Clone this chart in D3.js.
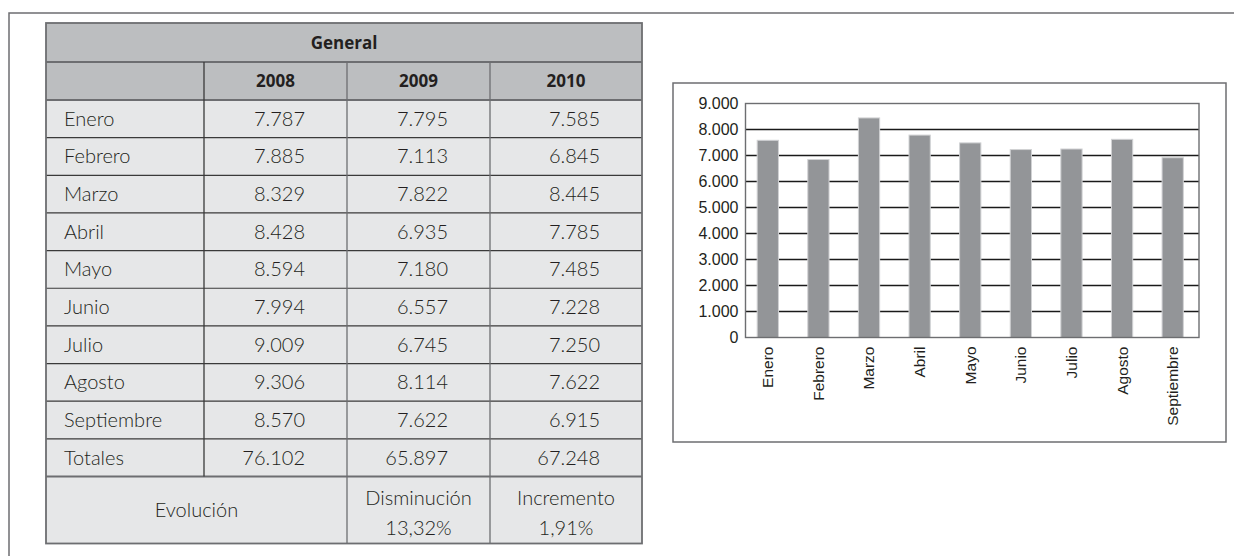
<!DOCTYPE html>
<html>
<head>
<meta charset="utf-8">
<script src="https://cdn.jsdelivr.net/npm/d3@7"></script>
<style>
  body { margin: 0; background: #fff; }
  svg { display: block; }
</style>
</head>
<body>
<div id="page"></div>
<script>
// table data
var months = ["Enero", "Febrero", "Marzo", "Abril", "Mayo", "Junio", "Julio", "Agosto", "Septiembre"];
var years = ["2008", "2009", "2010"];
var values2008 = ["7.787", "7.885", "8.329", "8.428", "8.594", "7.994", "9.009", "9.306", "8.570"];
var values2009 = ["7.795", "7.113", "7.822", "6.935", "7.180", "6.557", "6.745", "8.114", "7.622"];
var values2010 = ["7.585", "6.845", "8.445", "7.785", "7.485", "7.228", "7.250", "7.622", "6.915"];
var totals = ["76.102", "65.897", "67.248"];
var evolution = [["Disminución", "13,32%"], ["Incremento", "1,91%"]];
var yTicks = [0, 1000, 2000, 3000, 4000, 5000, 6000, 7000, 8000, 9000];

var svgWidth = 1234;
var svgHeight = 556;

var svg = d3.select("#page").append("svg")
  .attr("width", svgWidth)
  .attr("height", svgHeight);

var lineGray = "#6d6e71";
var lineDark = "#3a3a3a";
var lightFont = "Lato, 'Open Sans', sans-serif";
var boldFont = "'Open Sans', sans-serif";

// page frame (top + left edge)
svg.append("path")
  .attr("d", "M9,556 L9,13 L1234,13")
  .attr("fill", "none")
  .attr("stroke", lineGray)
  .attr("stroke-width", 1.5);

// ---------- table ----------
var colX = [46, 204, 347, 490, 642];
var tableTop = 23;
var generalH = 39;
var headerH = 38;
var rowH = 37.65;
var evolH = 67;

var rowsTop = tableTop + generalH + headerH;
var rowY = d3.scaleLinear().domain([0, 1]).range([rowsTop, rowsTop + rowH]);
var totalsTop = rowY(months.length);
var evolTop = totalsTop + rowH;
var tableBottom = evolTop + evolH;

var table = svg.append("g");

// backgrounds
table.append("rect")
  .attr("x", colX[0]).attr("y", tableTop)
  .attr("width", colX[4] - colX[0]).attr("height", generalH + headerH)
  .attr("fill", "#bcbec0");
table.append("rect")
  .attr("x", colX[0]).attr("y", rowsTop)
  .attr("width", colX[4] - colX[0]).attr("height", tableBottom - rowsTop)
  .attr("fill", "#e6e7e8");

// horizontal rules between data rows
var ruleYs = d3.range(0, months.length + 2).map(function(i) { return rowY(i); });
table.selectAll("line.hrule")
  .data(ruleYs)
  .enter()
  .append("line")
  .attr("x1", colX[0]).attr("x2", colX[4])
  .attr("y1", d => d).attr("y2", d => d)
  .attr("stroke", (d, i) => (i === 0 || i === months.length + 1) ? lineGray : lineDark)
  .attr("stroke-width", (d, i) => (i === 0 || i === months.length + 1) ? 1.8 : 1.2);

table.append("line")
  .attr("x1", colX[0]).attr("x2", colX[4])
  .attr("y1", tableTop + generalH).attr("y2", tableTop + generalH)
  .attr("stroke", lineGray).attr("stroke-width", 1.8);

// vertical rules
[1, 2, 3].forEach(function(c) {
  var y1 = tableTop + generalH;
  var y2 = (c === 1) ? evolTop : tableBottom;
  table.append("line")
    .attr("x1", colX[c]).attr("x2", colX[c])
    .attr("y1", y1).attr("y2", y2)
    .attr("stroke", c === 1 ? lineDark : lineGray)
    .attr("stroke-width", 1.3);
});

// outer border
table.append("rect")
  .attr("x", colX[0]).attr("y", tableTop)
  .attr("width", colX[4] - colX[0]).attr("height", tableBottom - tableTop)
  .attr("fill", "none")
  .attr("stroke", lineGray)
  .attr("stroke-width", 1.8);

// header texts
table.append("text")
  .attr("x", (colX[0] + colX[4]) / 2)
  .attr("y", tableTop + generalH / 2 + 6)
  .attr("text-anchor", "middle")
  .style("font-family", boldFont)
  .style("font-weight", "700")
  .style("font-size", "17px")
  .style("fill", "#231f20")
  .text("General");

table.selectAll("text.year")
  .data(years)
  .enter()
  .append("text")
  .attr("x", (d, i) => (colX[i + 1] + colX[i + 2]) / 2)
  .attr("y", tableTop + generalH + headerH / 2 + 6)
  .attr("text-anchor", "middle")
  .style("font-family", boldFont)
  .style("font-weight", "700")
  .style("font-size", "17px")
  .style("fill", "#231f20")
  .text(d => d);

// body rows
var bodyRows = months.map(function(m, i) {
  return [m, values2008[i], values2009[i], values2010[i]];
});
bodyRows.push(["Totales"].concat(totals));

bodyRows.forEach(function(row, r) {
  var cy = rowY(r) + rowH / 2 + 7;
  table.append("text")
    .attr("x", colX[0] + 18)
    .attr("y", cy)
    .style("font-family", lightFont)
    .style("font-weight", "300")
    .style("font-size", "20px")
    .style("fill", "#231f20")
    .text(row[0]);
  for (var c = 1; c < 4; c++) {
    table.append("text")
      .attr("x", colX[c + 1] - 42)
      .attr("y", cy)
      .attr("text-anchor", "end")
      .style("font-family", lightFont)
      .style("font-weight", "300")
      .style("font-size", "20px")
      .style("fill", "#231f20")
      .text(row[c]);
  }
});

// evolución row
table.append("text")
  .attr("x", (colX[0] + colX[2]) / 2)
  .attr("y", evolTop + evolH / 2 + 7)
  .attr("text-anchor", "middle")
  .style("font-family", lightFont)
  .style("font-weight", "300")
  .style("font-size", "20px")
  .style("fill", "#231f20")
  .text("Evolución");

evolution.forEach(function(lines, i) {
  var cx = (colX[i + 2] + colX[i + 3]) / 2;
  lines.forEach(function(t, j) {
    table.append("text")
      .attr("x", cx)
      .attr("y", evolTop + 28 + j * 30)
      .attr("text-anchor", "middle")
      .style("font-family", lightFont)
      .style("font-weight", "300")
      .style("font-size", "20px")
      .style("fill", "#231f20")
      .text(t);
  });
});

// ---------- bar chart ----------
var chartData = months.map(function(m, i) {
  return { month: m, value: +values2010[i].replace(".", "") };
});

var box = { left: 673, top: 83, right: 1226, bottom: 442 };
var plot = { left: 745.5, top: 103.5, right: 1199, bottom: 337.5 };

svg.append("rect")
  .attr("x", box.left).attr("y", box.top)
  .attr("width", box.right - box.left).attr("height", box.bottom - box.top)
  .attr("fill", "none")
  .attr("stroke", lineGray)
  .attr("stroke-width", 1.5);

var xBand = d3.scaleBand()
  .domain(months)
  .range([plot.left - 3, plot.right - 1])
  .paddingInner(0.58)
  .paddingOuter(0.29);

var yLinear = d3.scaleLinear()
  .domain([0, 9000])
  .range([plot.bottom, plot.top]);

var chartGroup = svg.append("g");

// gridlines
chartGroup.selectAll("line.grid")
  .data(yTicks.filter(d => d > 0 && d < 9000))
  .enter()
  .append("line")
  .attr("x1", plot.left).attr("x2", plot.right)
  .attr("y1", d => yLinear(d)).attr("y2", d => yLinear(d))
  .attr("stroke", "#1a1a1a")
  .attr("stroke-width", 1.5);

// bars
chartGroup.selectAll("rect.bar")
  .data(chartData)
  .enter()
  .append("rect")
  .attr("x", d => xBand(d.month))
  .attr("y", d => yLinear(d.value))
  .attr("width", xBand.bandwidth())
  .attr("height", d => yLinear(0) - yLinear(d.value))
  .attr("fill", "#939598")
  .attr("stroke", "#d1d2d4")
  .attr("stroke-width", 1);

// plot frame
chartGroup.append("rect")
  .attr("x", plot.left).attr("y", plot.top)
  .attr("width", plot.right - plot.left).attr("height", plot.bottom - plot.top)
  .attr("fill", "none")
  .attr("stroke", lineGray)
  .attr("stroke-width", 1.4);

// y axis labels
var leftAxis = d3.axisLeft(yLinear)
  .tickValues(yTicks)
  .tickSize(0)
  .tickPadding(7)
  .tickFormat(d => d === 0 ? "0" : d3.format(",")(d).replace(",", "."));

var yAxis = chartGroup.append("g")
  .attr("transform", `translate(${plot.left}, 0)`)
  .call(leftAxis);
yAxis.select(".domain").remove();
yAxis.selectAll("text")
  .style("font-family", "'Liberation Sans', Arial, sans-serif")
  .style("font-size", "16px")
  .style("fill", "#231f20");

// x axis labels (rotated)
var bottomAxis = d3.axisBottom(xBand).tickSize(0).tickPadding(0);
var xAxis = chartGroup.append("g")
  .attr("transform", `translate(0, ${plot.bottom})`)
  .call(bottomAxis);
xAxis.select(".domain").remove();
xAxis.selectAll("text")
  .attr("transform", "rotate(-90)")
  .attr("x", -9)
  .attr("y", 0)
  .attr("dy", "0.35em")
  .attr("text-anchor", "end")
  .style("font-family", "'Liberation Sans', Arial, sans-serif")
  .style("font-size", "15.5px")
  .style("fill", "#231f20");
</script>
</body>
</html>
